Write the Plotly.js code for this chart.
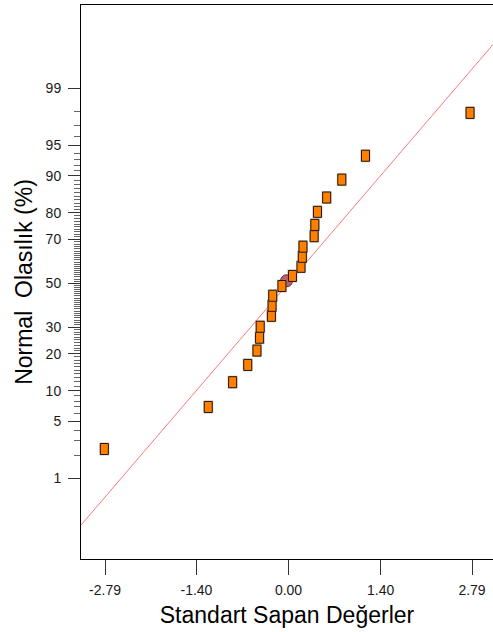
<!DOCTYPE html>
<html>
<head>
<meta charset="utf-8">
<script src="https://cdn.plot.ly/plotly-3.0.1.min.js"></script>
<style>
  html, body { margin: 0; padding: 0; background: #ffffff; overflow: hidden; }
  #chart { width: 493px; height: 632px; }
</style>
</head>
<body>
<div id="chart"></div>
<script>
// ---- Data ----
// Standardized deviations (x) of the square points
const stdDev = [-2.80, -1.22, -0.85, -0.62, -0.48, -0.44, -0.43, -0.26, -0.25, -0.24, -0.10,
                0.06, 0.19, 0.21, 0.22, 0.39, 0.40, 0.44, 0.58, 0.81, 1.17, 2.76];
// Normal probability (%) of the square points
const normProb = [2.4, 7.0, 11.9, 16.5, 21.1, 25.8, 30.2, 34.9, 39.4, 44.1, 48.7,
                  53.5, 57.8, 62.4, 66.9, 71.3, 75.7, 80.3, 84.7, 89.2, 93.6, 97.9];
// Highlighted (circle) point
const circleDev = [-0.03];
const circleProb = [51.2];
// Reference (fit) line end points: x in std dev, y in normal quantile units
const fitX = [-3.16, 3.11];
const fitZ = [-2.89, 2.85];
// Axis ticks
const yTickPct = [1, 5, 10, 20, 30, 50, 70, 80, 90, 95, 99];
const xTickVals = [-2.79, -1.40, 0.00, 1.40, 2.79];
const xTickText = ["-2.79", "-1.40", "0.00", "1.40", "2.79"];

// Inverse normal CDF (probability scale axis)
function probit(p) {
  const a = [-3.969683028665376e+01, 2.209460984245205e+02, -2.759285104469687e+02, 1.383577518672690e+02, -3.066479806614716e+01, 2.506628277459239e+00];
  const b = [-5.447609879822406e+01, 1.615858368580409e+02, -1.556989798598866e+02, 6.680131188771972e+01, -1.328068155288572e+01];
  const c = [-7.784894002430293e-03, -3.223964580411365e-01, -2.400758277161838e+00, -2.549732539343734e+00, 4.374664141464968e+00, 2.938163982698783e+00];
  const d = [7.784695709041462e-03, 3.224671290700398e-01, 2.445134137142996e+00, 3.754408661907416e+00];
  const pl = 0.02425, ph = 1 - pl;
  let q, r;
  if (p < pl) {
    q = Math.sqrt(-2 * Math.log(p));
    return (((((c[0]*q+c[1])*q+c[2])*q+c[3])*q+c[4])*q+c[5]) / ((((d[0]*q+d[1])*q+d[2])*q+d[3])*q+1);
  }
  if (p <= ph) {
    q = p - 0.5; r = q * q;
    return (((((a[0]*r+a[1])*r+a[2])*r+a[3])*r+a[4])*r+a[5])*q / (((((b[0]*r+b[1])*r+b[2])*r+b[3])*r+b[4])*r+1);
  }
  q = Math.sqrt(-2 * Math.log(1 - p));
  return -(((((c[0]*q+c[1])*q+c[2])*q+c[3])*q+c[4])*q+c[5]) / ((((d[0]*q+d[1])*q+d[2])*q+d[3])*q+1);
}
const toZ = pct => probit(pct / 100);

const sqZ = normProb.map(toZ);
const circZ = circleProb.map(toZ);
const minorPct = [];
for (let i = 1; i <= 99; i++) minorPct.push(i);

const font = "Liberation Sans, Arial, sans-serif";

const traces = [
  {
    type: "scatter", mode: "lines", x: fitX, y: fitZ,
    line: { color: "#ff7a7a", width: 1 }, hoverinfo: "skip", showlegend: false
  },
  {
    type: "scatter", mode: "markers", x: circleDev, y: circZ, showlegend: false,
    marker: { symbol: "circle", size: 12, color: "#bf5f6b", line: { color: "#5a2a2a", width: 1 } }
  },
  {
    type: "scatter", mode: "markers", x: stdDev, y: sqZ, showlegend: false,
    marker: { symbol: "square", size: 6, color: "#ff8000", line: { width: 0 } }
  }
];

// Rectangular markers (taller than wide), anchored at each data point through the axes
const shapes = [];
stdDev.forEach((xv, i) => {
  const base = { type: "rect", xref: "x", yref: "y", xsizemode: "pixel", ysizemode: "pixel",
                 xanchor: xv, yanchor: sqZ[i], layer: "above" };
  shapes.push(Object.assign({}, base, { x0: -5, x1: 5, y0: -6.5, y1: 6.5,
                 fillcolor: "rgba(140,140,140,0.5)", line: { width: 0 } }));
  shapes.push(Object.assign({}, base, { x0: -4, x1: 4, y0: -5.5, y1: 5.5,
                 fillcolor: "#ff8000", line: { color: "#2a1500", width: 1 } }));
});

const layout = {
  width: 493, height: 632,
  margin: { l: 81, r: 0, t: 5, b: 73 },
  paper_bgcolor: "#ffffff", plot_bgcolor: "#ffffff",
  font: { family: font, color: "#000000" },
  showlegend: false,
  shapes: shapes,
  xaxis: {
    range: [-3.155, 3.109], showgrid: false, zeroline: false,
    showline: true, linecolor: "#000000", linewidth: 1, mirror: true,
    ticks: "outside", ticklen: 15, tickwidth: 1, tickcolor: "#333333",
    tickmode: "array", tickvals: xTickVals, ticktext: xTickText,
    tickfont: { family: font, size: 14, color: "#1a1a1a" }, ticklabelstandoff: 3,
    title: { text: "Standart Sapan Değerler", font: { family: font, size: 23, color: "#000000" }, standoff: 10 }
  },
  yaxis: {
    range: [-3.290, 3.321], showgrid: false, zeroline: false,
    showline: true, linecolor: "#000000", linewidth: 1, mirror: false,
    ticks: "outside", ticklen: 12, tickwidth: 1, tickcolor: "#333333",
    tickmode: "array", tickvals: yTickPct.map(toZ), ticktext: yTickPct.map(String),
    tickfont: { family: font, size: 14, color: "#1a1a1a" }, ticklabelstandoff: 4,
    minor: { tickmode: "array", tickvals: minorPct.map(toZ), ticks: "outside", ticklen: 6, tickwidth: 1, tickcolor: "#666666" },
    title: { text: "Normal\u00a0 Olasılık (%)", font: { family: font, size: 23, color: "#000000" }, standoff: 6 }
  }
};

Plotly.newPlot("chart", traces, layout, { staticPlot: true, displayModeBar: false });
</script>
</body>
</html>
